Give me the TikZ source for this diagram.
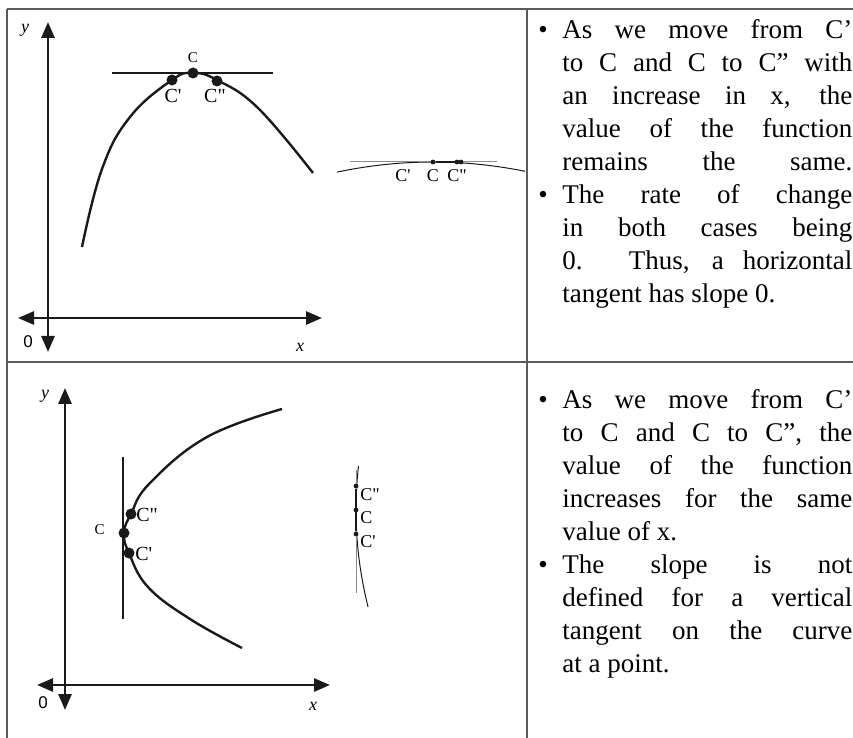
\documentclass[tikz,border=0pt]{standalone}
\usepackage{fontspec}
\setmainfont{Liberation Serif}
\setsansfont{Liberation Sans}
\usetikzlibrary{arrows.meta,positioning}
\definecolor{rulec}{HTML}{5A5A5A}
\definecolor{ink}{HTML}{1A1A1A}
\definecolor{thin}{HTML}{8A8A8A}
\tikzset{
  every node/.style={inner sep=0pt},
  axisln/.style={{Triangle[length=8pt,width=6.5pt]}-{Triangle[length=8pt,width=6.5pt]},
                 line width=1.4pt, draw=ink},
  crv/.style  ={line width=1.2pt, draw=ink},
  tline/.style={line width=1.2pt, draw=ink},
  crvs/.style ={line width=0.5pt, draw=ink},
  tlines/.style={line width=0.5pt, draw=thin},
  dotbig/.style={circle, fill=ink, minimum size=5.5pt},
  dotsm/.style ={circle, fill=ink, minimum size=2.4pt},
  lblC/.style ={font=\fontsize{10pt}{12pt}\selectfont},
  lblc/.style ={font=\fontsize{7.5pt}{9pt}\selectfont},
  lbli/.style ={font=\fontsize{9pt}{11pt}\selectfont},
  ax/.style   ={font=\fontsize{9pt}{11pt}\selectfont\itshape},
  org/.style  ={font=\fontsize{8.5pt}{10pt}\selectfont\sffamily},
  txt/.style  ={anchor=north west, text width=158.5pt, align=justify,
                font=\fontsize{13.5pt}{16.5pt}\selectfont},
  grid/.style ={line width=0.8pt, draw=rulec},
}
\newcommand{\bulitem}{\noindent\hangindent=13.5pt\hangafter=1%
  \makebox[13.5pt][l]{\hspace{1.5pt}\textbullet}}
\newcommand{\qs}{\textquotesingle}
\newcommand{\qd}{\textquotedbl}

\begin{document}
\begin{tikzpicture}[x=0.5pt, y=-0.5pt]
\useasboundingbox (0,0) rectangle (853,738);

% ---------------- table -------------------------------------------------------
\draw[grid] (7,9) -- (853,9);
\draw[grid] (7,9) -- (7,738);
\draw[grid] (527,9) -- (527,738);
\draw[grid] (7,362) -- (853,362);

% ---------------- top graph: horizontal tangent -------------------------------
\coordinate (ya1) at (48,352);
\coordinate (yb1) at (48,22);
\coordinate (xa1) at (18,318);
\coordinate (xb1) at (322,318);
\draw[axisln] (ya1) -- (yb1);
\draw[axisln] (xa1) -- (xb1);
\node[ax]  (ylab1) at (25,30)  {y};
\node[org] (olab1) at (28,342) {0};
\node[ax]  (xlab1) at (300,347) {x};

\draw[crv] plot[smooth, tension=0.7] coordinates
  {(82,247) (102,169) (130,117) (172,80) (193,73) (217,80) (258,108) (313,173)};
\coordinate (ht1) at (112,73);
\coordinate (ht2) at (273,73);
\draw[tline] (ht1) -- (ht2);

\node[dotbig] (c1)  at (193,73) {};
\node[dotbig] (c1a) at (172,80) {};
\node[dotbig] (c1b) at (217,81) {};
\node[lblc] (lc1)  at (193,58) {C};
\node[lblC] (lc1a) at (173,96) {C\qs};
\node[lblC] (lc1b) at (215,96) {C\qd};

% zoomed view
\draw[crvs] plot[domain=337:525, samples=40] (\x, {162+0.0011*(\x-433)^2});
\coordinate (hz1) at (350,162);
\coordinate (hz2) at (497,162);
\draw[tlines] (hz1) -- (hz2);
\node[dotsm] (z1)  at (433,162) {};
\node[dotsm] (z1b) at (457,162) {};
\node[dotsm] (z1c) at (461,162) {};
\draw[line width=1pt, draw=ink] (z1) -- (z1c);
\node[lbli] (lz1a) at (403,176) {C\qs};
\node[lbli] (lz1)  at (433,176) {C};
\node[lbli] (lz1b) at (457,176) {C\qd};

% ---------------- bottom graph: vertical tangent ------------------------------
\coordinate (ya2) at (65,710);
\coordinate (yb2) at (65,388);
\coordinate (xa2) at (37,685);
\coordinate (xb2) at (330,685);
\draw[axisln] (ya2) -- (yb2);
\draw[axisln] (xa2) -- (xb2);
\node[ax]  (ylab2) at (45,396)  {y};
\node[org] (olab2) at (43,703) {0};
\node[ax]  (xlab2) at (313,706) {x};

\draw[crv] plot[smooth, tension=0.7] coordinates
  {(242,648) (190,619) (148,587) (129,553) (124,533) (131,514) (150,483) (207,437) (282,409)};
\coordinate (vt1) at (123,457);
\coordinate (vt2) at (123,619);
\draw[tline] (vt1) -- (vt2);

\node[dotbig] (c2)  at (124,533) {};
\node[dotbig] (c2b) at (131,514) {};
\node[dotbig] (c2a) at (129,553) {};
\node[lblc, anchor=east] (lc2)  at (105,530) {C};
\node[lblC, anchor=west] (lc2b) at (136,515) {C\qd};
\node[lblC, anchor=west] (lc2a) at (135,554) {C\qs};

% zoomed view
\draw[crvs] plot[domain=466:607, samples=40] ({356+0.00128*(\x-510)^2}, \x);
\coordinate (vz1) at (356,470);
\coordinate (vz2) at (356,593);
\draw[tlines] (vz1) -- (vz2);
\node[dotsm] (z2b) at (356,486) {};
\node[dotsm] (z2)  at (356,510) {};
\node[dotsm] (z2a) at (356,534) {};
\draw[line width=1pt, draw=ink] (z2b) -- (z2a);
\node[lbli, anchor=west] (lz2b) at (360,495) {C\qd};
\node[lbli, anchor=west] (lz2)  at (360,518) {C};
\node[lbli, anchor=west] (lz2a) at (360,542) {C\qs};

% ---------------- explanations ------------------------------------------------
\node[txt] (note1) at (535,19) {\tolerance=10000\hyphenpenalty=10000
  \bulitem As we move from C’\linebreak to C and C to C” with\linebreak
  an increase in x, the\linebreak value of the function\linebreak
  {\parfillskip=0pt remains the same.\par}
  \bulitem The rate of change\linebreak in both cases being\linebreak
  0. Thus, a horizontal\linebreak tangent has slope 0.\par};

\node[txt] (note2) at (535,389) {\tolerance=10000\hyphenpenalty=10000
  \bulitem As we move from C’\linebreak to C and C to C”, the\linebreak
  value of the function\linebreak increases for the same\linebreak
  value of x.\par
  \bulitem The slope is not\linebreak defined for a vertical\linebreak
  tangent on the curve\linebreak at a point.\par};

\end{tikzpicture}
\end{document}
